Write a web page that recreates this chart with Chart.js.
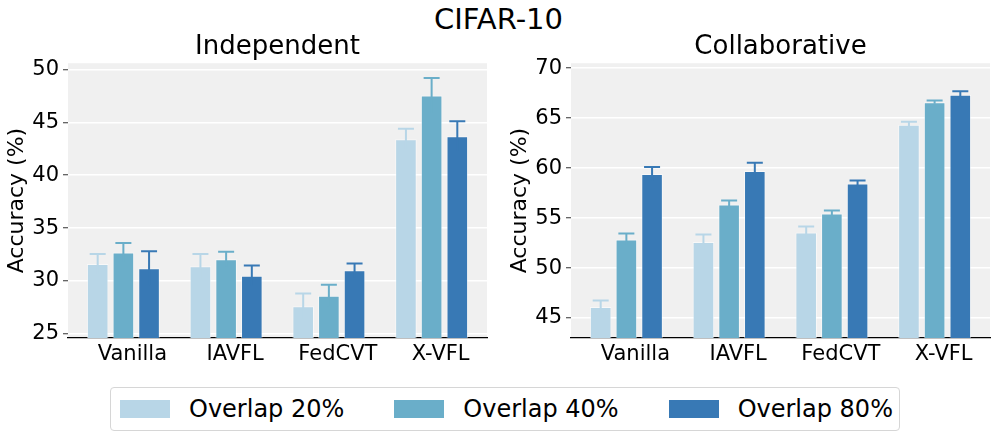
<!DOCTYPE html>
<html>
<head>
<meta charset="utf-8">
<script src="https://cdn.jsdelivr.net/npm/chart.js@4"></script>
<style>
    body { margin: 0; width: 997px; height: 438px; background: #fff; font-family: "DejaVu Sans", sans-serif; position: relative; overflow: hidden; }
    #main-title { position: absolute; left: 0; width: 997px; top: 1px; text-align: center; font-size: 29px; line-height: 36px; }
    #left-chart { position: absolute; left: 0; top: 0; }
    #right-chart { position: absolute; left: 497px; top: 0; }
    #legend { position: absolute; left: 110px; top: 387px; width: 788px; height: 42px; border: 1px solid #d6d6d6; border-radius: 4px; display: flex; align-items: center; }
    .item { display: flex; align-items: center; font-size: 24px; margin-left: 9px; margin-right: 41px; white-space: nowrap; flex-shrink: 0; }
    .swatch { width: 50px; height: 18px; margin-right: 19px; flex-shrink: 0; }
</style>
</head>
<body>
<div id="main-title">CIFAR-10</div>
<canvas id="left-chart" width="497" height="380"></canvas>
<canvas id="right-chart" width="500" height="380"></canvas>
<div id="legend"></div>

<script>
const categories = ['Vanilla', 'IAVFL', 'FedCVT', 'X-VFL'];
const seriesNames = ['Overlap 20%', 'Overlap 40%', 'Overlap 80%'];
const seriesColors = ['#b8d6e7', '#6aaec9', '#3879b5'];

// Independent
const indepAcc20 = [31.6, 31.4, 27.6, 43.4];
const indepAcc40 = [32.7, 32.05, 28.6, 47.55];
const indepAcc80 = [31.2, 30.5, 31.0, 43.7];
const indepErr20 = [0.95, 1.15, 1.2, 1.0];
const indepErr40 = [0.9, 0.7, 1.05, 1.65];
const indepErr80 = [1.6, 0.95, 0.65, 1.4];
const indepRange = [24.6, 50.6];

// Collaborative
const collabAcc20 = [46.1, 52.6, 53.55, 64.35];
const collabAcc40 = [52.85, 56.35, 55.45, 66.6];
const collabAcc80 = [59.4, 59.7, 58.45, 67.35];
const collabErr20 = [0.65, 0.75, 0.6, 0.3];
const collabErr40 = [0.6, 0.4, 0.3, 0.17];
const collabErr80 = [0.7, 0.85, 0.3, 0.35];
const collabRange = [43.0, 70.5];

Chart.defaults.font.family = '"DejaVu Sans", sans-serif';
Chart.defaults.color = '#000';

// grey plot background
const plotBackground = {
    id: 'plotBackground',
    beforeDraw(chart) {
        const { ctx, chartArea } = chart;
        ctx.save();
        ctx.fillStyle = '#f0f0f0';
        ctx.fillRect(chartArea.left, chartArea.top, chartArea.right - chartArea.left, chartArea.bottom - chartArea.top);
        ctx.restore();
    }
};

// error bars with caps, same colour as the bar
const errorBars = {
    id: 'errorBars',
    afterDatasetsDraw(chart) {
        const ctx = chart.ctx;
        const yScale = chart.scales.y;
        chart.data.datasets.forEach((ds, i) => {
            const meta = chart.getDatasetMeta(i);
            ctx.save();
            ctx.strokeStyle = ds.backgroundColor;
            ctx.lineWidth = 2;
            meta.data.forEach((bar, j) => {
                const v = ds.data[j];
                const e = ds.errors[j];
                const yTop = yScale.getPixelForValue(v + e);
                const yBot = yScale.getPixelForValue(v - e);
                ctx.beginPath();
                ctx.moveTo(bar.x, yBot);
                ctx.lineTo(bar.x, yTop);
                ctx.moveTo(bar.x - 8, yTop);
                ctx.lineTo(bar.x + 8, yTop);
                ctx.stroke();
            });
            ctx.restore();
        });
    }
};

function buildChart(id, title, accs, errs, range, padLeft, padRight) {
    const datasets = accs.map((a, i) => ({
        label: seriesNames[i],
        data: a,
        errors: errs[i],
        backgroundColor: seriesColors[i],
        borderColor: 'rgba(255,255,255,0.5)',
        borderWidth: 1,
        categoryPercentage: 0.75,
        barPercentage: 0.84
    }));
    return new Chart(id, {
        type: 'bar',
        data: { labels: categories.map((c, i) => i), datasets: datasets },
        options: {
            responsive: false,
            animation: false,
            layout: { padding: { top: 32, left: padLeft, right: padRight, bottom: 0 } },
            plugins: {
                legend: { display: false },
                tooltip: { enabled: false },
                title: {
                    display: true,
                    text: title,
                    fullSize: false,
                    font: { size: 26, weight: 'normal' },
                    padding: 0
                }
            },
            scales: {
                x: {
                    type: 'linear',
                    offset: false,
                    min: -0.539,
                    max: 3.539,
                    afterBuildTicks: (scale) => { scale.ticks = categories.map((c, i) => ({ value: i })); },
                    afterFit: (scale) => { scale.height = 42; },
                    grid: { display: false, drawTicks: false },
                    border: { display: true, color: '#000', width: 1.3 },
                    ticks: {
                        callback: (v) => categories[v],
                        font: { size: 21 },
                        padding: 4,
                        labelOffset: 9,
                        maxRotation: 0,
                        autoSkip: false
                    }
                },
                y: {
                    min: range[0],
                    max: range[1],
                    afterFit: (scale) => { scale.width = 68; },
                    grid: { color: '#fff', lineWidth: 1.5, tickColor: '#333', tickLength: 5, tickWidth: 1 },
                    border: { display: false },
                    ticks: { stepSize: 5, includeBounds: false, font: { size: 21 }, padding: 4 },
                    title: {
                        display: true,
                        text: 'Accuracy (%)',
                        font: { size: 22 },
                        padding: { top: 4, bottom: 0 }
                    }
                }
            }
        },
        plugins: [plotBackground, errorBars]
    });
}

buildChart('left-chart', 'Independent',
    [indepAcc20, indepAcc40, indepAcc80], [indepErr20, indepErr40, indepErr80], indepRange, 0, 10);
buildChart('right-chart', 'Collaborative',
    [collabAcc20, collabAcc40, collabAcc80], [collabErr20, collabErr40, collabErr80], collabRange, 6, 7);

// shared legend
const legend = document.getElementById('legend');
seriesNames.forEach((name, i) => {
    const item = document.createElement('div');
    item.className = 'item';
    const sw = document.createElement('div');
    sw.className = 'swatch';
    sw.style.background = seriesColors[i];
    const label = document.createElement('span');
    label.textContent = name;
    item.appendChild(sw);
    item.appendChild(label);
    legend.appendChild(item);
});
</script>
</body>
</html>
